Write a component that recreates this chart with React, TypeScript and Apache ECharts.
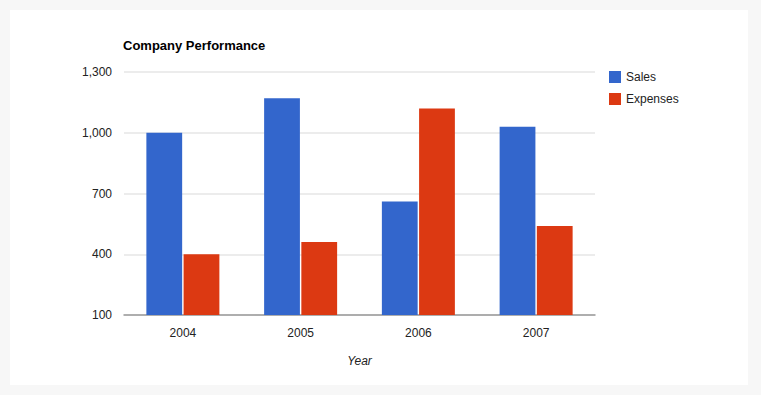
import React, { useEffect, useRef } from "react";
import * as echarts from "echarts";

const years = ["2004", "2005", "2006", "2007"];
const sales = [1000, 1170, 660, 1030];
const expenses = [400, 460, 1120, 540];
const seriesNames = ["Sales", "Expenses"];
const yMin = 100;
const yMax = 1300;
const yStep = 300;

const FONT = "'Liberation Sans', Arial, Helvetica, sans-serif";

export default function App() {
  const ref = useRef<HTMLDivElement>(null);
  useEffect(() => {
    if (!ref.current) return;
    const chart = echarts.init(ref.current, undefined, { renderer: "svg" });
    chart.setOption({
      animation: false,
      backgroundColor: "#f7f7f7",
      textStyle: { fontFamily: FONT },
      graphic: [
        {
          type: "rect",
          left: 10,
          top: 10,
          shape: { width: 738, height: 375 },
          style: { fill: "#ffffff" },
          z: -10,
          silent: true,
        },
      ],
      title: {
        text: "Company Performance",
        left: 118,
        top: 34,
        textStyle: { fontFamily: FONT, fontSize: 13, fontWeight: "bold", color: "#000" },
      },
      legend: {
        orient: "vertical",
        left: 604,
        top: 66,
        itemWidth: 12,
        itemHeight: 12,
        itemGap: 10,
        icon: "rect",
        data: seriesNames,
        textStyle: { fontFamily: FONT, fontSize: 12, color: "#222" },
      },
      grid: { left: 124, right: 166, top: 72, bottom: 80, containLabel: false },
      xAxis: {
        type: "category",
        data: years,
        name: "Year",
        nameLocation: "middle",
        nameGap: 40,
        nameTextStyle: { fontFamily: FONT, fontSize: 12, fontStyle: "italic", color: "#222" },
        axisLine: { show: true, lineStyle: { color: "#999", width: 1.5 } },
        axisTick: { show: false },
        axisLabel: { fontFamily: FONT, fontSize: 12, color: "#222", margin: 12 },
      },
      yAxis: {
        type: "value",
        min: yMin,
        max: yMax,
        interval: yStep,
        axisLine: { show: false },
        axisTick: { show: false },
        splitLine: { lineStyle: { color: "#e6e6e6", width: 1.5 } },
        axisLabel: {
          fontFamily: FONT,
          fontSize: 12,
          color: "#222",
          margin: 12,
          formatter: (v: number) => v.toLocaleString("en-US"),
        },
      },
      series: [
        {
          name: seriesNames[0],
          type: "bar",
          data: sales,
          itemStyle: { color: "#3366cc" },
          barCategoryGap: "38%",
          barGap: "4%",
        },
        {
          name: seriesNames[1],
          type: "bar",
          data: expenses,
          itemStyle: { color: "#dc3912" },
          barCategoryGap: "38%",
          barGap: "4%",
        },
      ],
    });
    return () => chart.dispose();
  }, []);
  return (
    <div
      ref={ref}
      style={{ position: "absolute", left: 0, top: 0, width: 761, height: 395 }}
    />
  );
}
